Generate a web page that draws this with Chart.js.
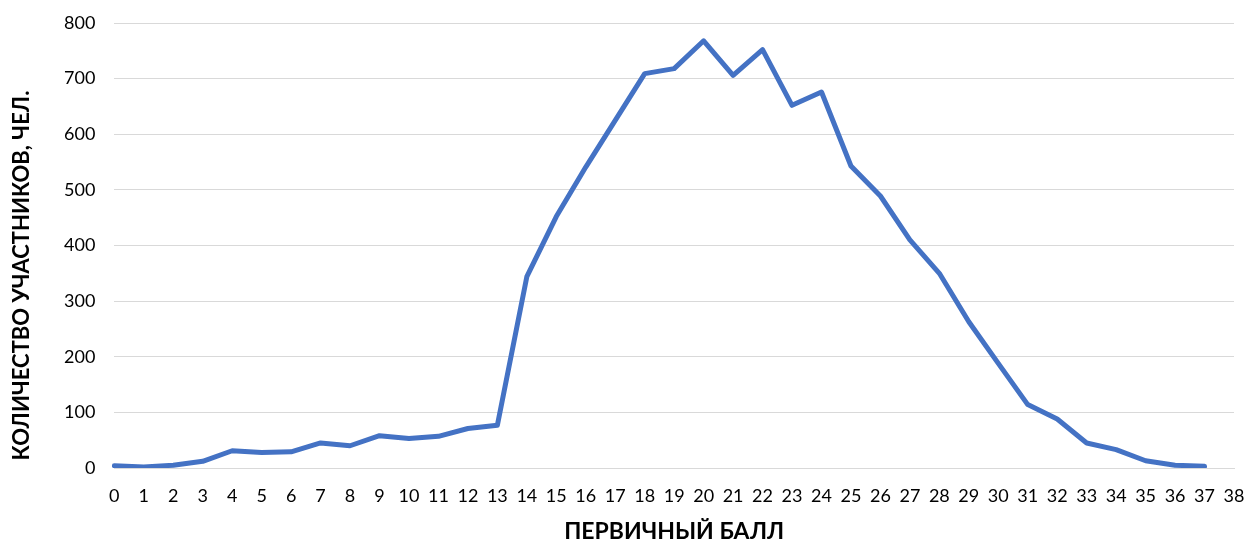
<!DOCTYPE html>
<html>
<head>
<meta charset="utf-8">
<script src="https://cdn.jsdelivr.net/npm/chart.js@4/dist/chart.umd.min.js"></script>
<style>
html,body{margin:0;padding:0;background:#fff;}
#wrap{width:1248px;height:543px;position:relative;}
</style>
</head>
<body>
<div id="wrap"><canvas id="c"></canvas></div>
<script>
const categories = ["0","1","2","3","4","5","6","7","8","9","10","11","12","13","14","15","16","17","18","19","20","21","22","23","24","25","26","27","28","29","30","31","32","33","34","35","36","37","38"];
const participants = [4, 2, 5, 12, 31, 28, 29, 45, 40, 58, 53, 57, 71, 77, 344, 452, 541, 625, 709, 718, 768, 706, 752, 652, 676, 543, 489, 410, 350, 263, 188, 114, 88, 45, 33, 13, 5, 3];
const xTitle = "ПЕРВИЧНЫЙ БАЛЛ";
const yTitle = "КОЛИЧЕСТВО УЧАСТНИКОВ, ЧЕЛ.";

const FONT = "Lato, 'Open Sans', sans-serif";

// Draws the vertical axis title centred on the whole chart height (as in the source)
const yTitlePlugin = {
  id: 'yTitlePlugin',
  afterDraw(chart) {
    const ctx = chart.ctx;
    ctx.save();
    ctx.translate(22, chart.height / 2 + 4);
    ctx.rotate(-Math.PI / 2);
    ctx.font = "bold 22px " + FONT;
    ctx.fillStyle = '#000';
    ctx.textAlign = 'center';
    ctx.textBaseline = 'middle';
    ctx.fillText(yTitle, 0, 0);
    ctx.restore();
  }
};

new Chart(document.getElementById('c'), {
  type: 'line',
  data: {
    labels: categories,
    datasets: [{
      data: participants,
      borderColor: '#4472C4',
      borderWidth: 5,
      pointRadius: 0,
      tension: 0,
      borderCapStyle: 'round',
      borderJoinStyle: 'round',
      fill: false
    }]
  },
  options: {
    responsive: true,
    maintainAspectRatio: false,
    animation: false,
    layout: { padding: { top: 23, right: 0, bottom: 0, left: 45 } },
    plugins: { legend: { display: false }, tooltip: { enabled: false } },
    scales: {
      x: {
        offset: false,
        grid: { display: false, drawTicks: false },
        border: { display: true, color: '#d9d9d9', width: 1 },
        ticks: { color: '#000', font: { family: FONT, size: 18 }, padding: 17, maxRotation: 0, autoSkip: false },
        title: { display: true, text: xTitle, color: '#000', font: { family: FONT, size: 23, weight: 'bold' }, padding: { top: 0, bottom: -2 } },
        afterFit(s) { s.height = 75; s.paddingLeft = 0; s.paddingRight = 14; }
      },
      y: {
        min: 0, max: 800,
        grid: { color: '#d9d9d9', lineWidth: 1, drawTicks: false },
        border: { display: false },
        ticks: { stepSize: 100, color: '#000', font: { family: FONT, size: 18 }, padding: 19 },
        title: { display: false },
        afterFit(s) { s.paddingTop = 0; s.paddingBottom = 0; }
      }
    }
  },
  plugins: [yTitlePlugin]
});
</script>
</body>
</html>
